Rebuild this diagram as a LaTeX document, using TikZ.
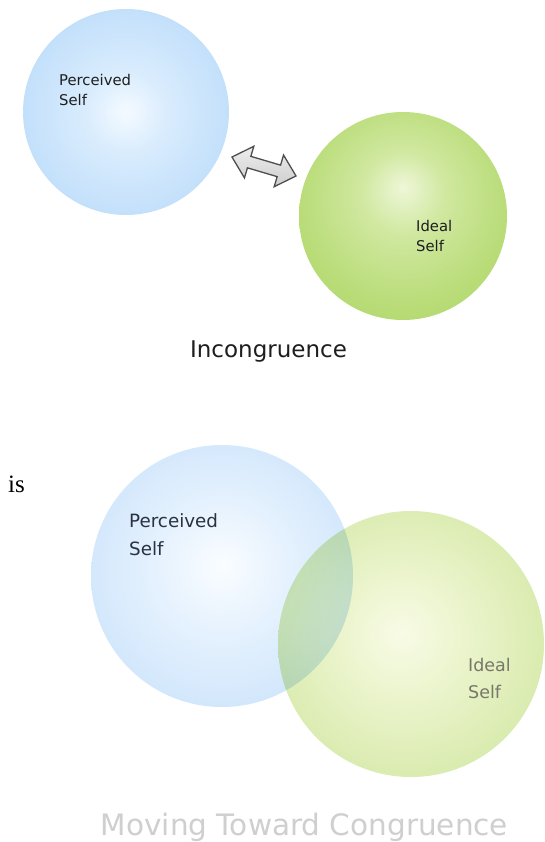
\documentclass[tikz,border=0pt]{standalone}
\usepackage{fontspec}
\setmainfont{DejaVu Sans}
\newfontfamily\serifis{Liberation Serif}
\definecolor{tb0}{HTML}{F4FAFF}
\definecolor{tb1}{HTML}{D9ECFD}
\definecolor{tb2}{HTML}{C3E0FB}
\definecolor{tb3}{HTML}{AED4F8}
\definecolor{tb4}{HTML}{A2CBF5}
\definecolor{tg0}{HTML}{EEF7D8}
\definecolor{tg1}{HTML}{D0E8A0}
\definecolor{tg2}{HTML}{B9DC78}
\definecolor{tg3}{HTML}{A6D25C}
\definecolor{tg4}{HTML}{9DCC4C}
\definecolor{bb0}{HTML}{FAFDFF}
\definecolor{bb1}{HTML}{E6F2FE}
\definecolor{bb2}{HTML}{CDE4FB}
\definecolor{bb3}{HTML}{B8D8F8}
\definecolor{bb4}{HTML}{ADD1F6}
\definecolor{bg0}{HTML}{F8FBE6}
\definecolor{bg1}{HTML}{EBF4CC}
\definecolor{bg2}{HTML}{D5E9A8}
\definecolor{bg3}{HTML}{C2DF86}
\definecolor{bg4}{HTML}{B8D873}
\definecolor{labeldark}{HTML}{1E1E1E}
\definecolor{labelnavy}{HTML}{2A3242}
\definecolor{labelgray}{HTML}{78786A}
\definecolor{titlegray}{HTML}{CFCFCF}
\definecolor{arrowfillA}{HTML}{EEEEEE}
\definecolor{arrowfillB}{HTML}{CDCDCD}
\definecolor{arrowline}{HTML}{4E4E4E}
\pgfdeclareradialshading{topblue}{\pgfpoint{0bp}{0bp}}{color(0bp)=(tb0); color(10bp)=(tb1); color(25bp)=(tb2); color(42bp)=(tb3); color(50bp)=(tb4)}
\pgfdeclareradialshading{topgreen}{\pgfpoint{0bp}{7bp}}{color(0bp)=(tg0); color(10bp)=(tg1); color(25bp)=(tg2); color(42bp)=(tg3); color(50bp)=(tg4)}
\pgfdeclareradialshading{botblue}{\pgfpoint{0bp}{2bp}}{color(0bp)=(bb0); color(12bp)=(bb1); color(30bp)=(bb2); color(44bp)=(bb3); color(50bp)=(bb4)}
\pgfdeclareradialshading{botgreen}{\pgfpoint{-2bp}{2bp}}{color(0bp)=(bg0); color(12bp)=(bg1); color(30bp)=(bg2); color(44bp)=(bg3); color(50bp)=(bg4)}
\tikzset{
  sph/.style={circle, inner sep=0pt, shade},
  lbl/.style={inner sep=0pt, anchor=base west},
  arrowbox/.style={top color=arrowfillA, bottom color=arrowfillB, draw=arrowline, line width=1.3pt, line join=miter},
}
\begin{document}
\begin{tikzpicture}[x=1pt,y=-1pt]
\fill[white] (0,0) rectangle (544,842);
\useasboundingbox (0,0) rectangle (544,842);

% top: incongruence
\node[sph, shading=topblue, minimum size=206pt] (ps1) at (126,112) {};
\node[sph, shading=topgreen, minimum size=208pt] (is1) at (403,216) {};
\node[lbl, text=labeldark, font=\fontsize{14.8}{17}\selectfont] (ps1a) at (59,86) {Perceived};
\node[lbl, text=labeldark, font=\fontsize{14.8}{17}\selectfont] (ps1b) at (59,106) {Self};
\node[lbl, text=labeldark, font=\fontsize{14.8}{17}\selectfont] (is1a) at (416,231) {Ideal};
\node[lbl, text=labeldark, font=\fontsize{14.8}{17}\selectfont] (is1b) at (416,251) {Self};
\coordinate (arrowmid) at (264,166.5);
\begin{scope}[shift={(arrowmid)}, rotate=-16.5]
  \draw[arrowbox] (-33.4,0) -- (-15.5,16.5) -- (-15.5,6) -- (15.5,6) -- (15.5,16.5)
     -- (33.4,0) -- (15.5,-16.5) -- (15.5,-6) -- (-15.5,-6) -- (-15.5,-16.5) -- cycle;
\end{scope}
\node[inner sep=0pt, anchor=base, text=labeldark, font=\fontsize{23}{27}\selectfont] (t1) at (268.5,357.5) {Incongruence};

% side word
\node[lbl, font=\serifis\fontsize{25}{29}\selectfont] (isword) at (8,492) {is};

% bottom: moving toward congruence
\node[sph, shading=botblue, minimum size=262pt] (ps2) at (222,576) {};
\node[sph, shading=botgreen, minimum size=266pt, blend mode=multiply] (is2) at (411,644) {};
\node[lbl, text=labelnavy, font=\fontsize{18.3}{22}\selectfont] (ps2a) at (129,527) {Perceived};
\node[lbl, text=labelnavy, font=\fontsize{18.3}{22}\selectfont] (ps2b) at (129,555) {Self};
\node[lbl, text=labelgray, font=\fontsize{17.5}{21}\selectfont] (is2a) at (468,671) {Ideal};
\node[lbl, text=labelgray, font=\fontsize{17.5}{21}\selectfont] (is2b) at (468,698) {Self};
\node[inner sep=0pt, anchor=base, text=titlegray, font=\fontsize{29.5}{34}\selectfont] (t2) at (304.5,835) {Moving Toward Congruence};
\end{tikzpicture}
\end{document}
